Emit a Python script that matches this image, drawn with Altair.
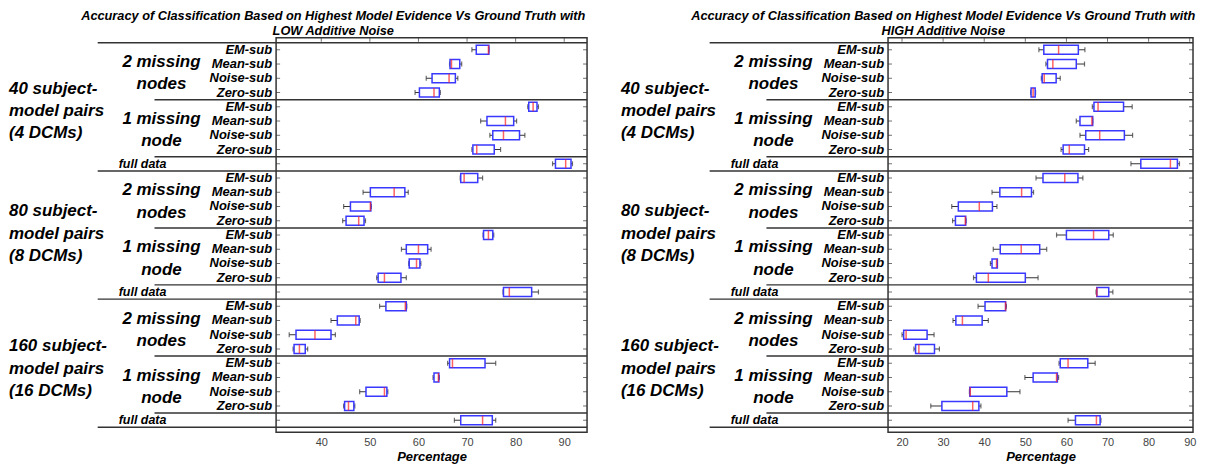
import altair as alt
import pandas as pd

FONT = "Liberation Sans"

row_names = ["EM-sub", "Mean-sub", "Noise-sub", "Zero-sub",
             "EM-sub", "Mean-sub", "Noise-sub", "Zero-sub", "full data"] * 3

group_labels = ["40 subject-\nmodel pairs\n(4 DCMs)",
                "80 subject-\nmodel pairs\n(8 DCMs)",
                "160 subject-\nmodel pairs\n(16 DCMs)"]
group_center_rows = [4.3, 12.9, 22.4]

sub_group_labels = ["2 missing\nnodes", "1 missing\nnode"] * 3
sub_group_center_rows = [1.65, 5.65, 10.65, 14.65, 19.65, 23.65]

sep_minor = [3.5, 7.5, 12.5, 16.5, 21.5, 25.5]
sep_major = [-0.5, 8.5, 17.5, 26.5]

# LOW additive noise (left panel)
low_wmin = [71.0, 66.4, 61.6, 59.3, 82.5, 72.8, 74.7, 71.0, 87.6,
            68.6, 48.6, 44.6, 44.4, 73.3, 56.5, 58.0, 51.4, 77.4,
            52.0, 42.0, 33.4, 34.2, 66.0, 63.0, 47.9, 44.6, 67.4]
low_q1 = [71.9, 66.5, 62.8, 60.2, 82.7, 74.1, 75.3, 71.2, 88.2,
          68.7, 50.1, 46.0, 45.1, 73.4, 57.5, 58.1, 51.7, 77.5,
          53.3, 43.3, 34.8, 34.4, 66.4, 63.2, 49.2, 44.8, 68.7]
low_med = [74.4, 66.8, 66.3, 63.2, 83.6, 77.9, 77.5, 72.0, 90.3,
           69.4, 55.0, 50.1, 47.7, 74.4, 60.0, 59.6, 53.0, 78.7,
           57.3, 47.1, 38.7, 35.5, 67.0, 64.1, 53.0, 45.6, 73.2]
low_q3 = [74.5, 68.5, 67.6, 64.3, 84.4, 79.6, 80.8, 75.6, 91.4,
          72.2, 57.2, 50.2, 48.8, 75.3, 61.9, 60.3, 56.4, 83.3,
          57.5, 47.8, 42.0, 36.7, 73.7, 64.2, 53.5, 46.7, 75.2]
low_wmax = [74.5, 68.9, 68.1, 64.5, 84.7, 80.2, 81.9, 76.9, 91.7,
            73.2, 57.9, 50.3, 49.1, 75.5, 62.6, 60.5, 57.5, 84.7,
            57.6, 48.0, 42.9, 37.2, 75.9, 64.3, 53.7, 46.9, 75.9]

# HIGH additive noise (right panel)
high_wmin = [53.3, 55.0, 53.9, 51.3, 66.3, 62.4, 63.3, 58.7, 75.7,
             52.6, 41.9, 32.1, 32.3, 57.6, 42.2, 41.5, 37.4, 67.2,
             38.5, 32.4, 20.0, 22.9, 58.2, 49.9, 36.4, 27.0, 60.4]
high_q1 = [54.5, 55.4, 54.1, 51.4, 66.7, 63.3, 64.7, 59.2, 78.1,
           54.3, 43.8, 33.7, 33.0, 60.0, 43.9, 41.9, 38.1, 67.4,
           40.2, 33.1, 20.4, 23.3, 58.5, 51.9, 36.5, 29.7, 62.2]
high_med = [58.1, 56.7, 54.6, 51.9, 67.7, 66.2, 68.1, 60.7, 85.3,
            59.6, 49.1, 38.8, 35.4, 66.6, 49.0, 43.0, 41.0, 67.4,
            45.2, 34.7, 21.0, 24.1, 60.4, 57.6, 36.6, 37.2, 67.3]
high_q3 = [62.9, 62.4, 57.5, 52.4, 73.9, 66.4, 74.1, 64.4, 87.0,
           62.8, 51.5, 42.0, 35.5, 70.3, 53.5, 43.2, 50.0, 70.3,
           45.2, 39.5, 26.1, 27.9, 65.2, 57.8, 45.5, 38.7, 68.2]
high_wmax = [64.5, 64.4, 58.5, 52.5, 76.0, 66.4, 76.1, 65.4, 87.5,
             64.0, 52.0, 43.1, 35.6, 71.4, 55.2, 43.2, 53.1, 71.3,
             45.4, 41.0, 27.8, 29.1, 67.0, 58.1, 48.7, 39.2, 68.4]

low_ticks = [40, 50, 60, 70, 80, 90]
high_ticks = [20, 30, 40, 50, 60, 70, 80, 90]
low_domain = [30.7, 94.7]
high_domain = [16.6, 90.8]

title_low = ["Accuracy of Classification Based on Highest Model Evidence Vs Ground Truth with",
             "LOW Additive Noise"]
title_high = ["Accuracy of Classification Based on Highest Model Evidence Vs Ground Truth with",
              "HIGH Additive Noise"]

H = 396
BLUE = "#3838ff"
RED = "#ff2020"
DARK = "#333333"
LH = 22.5


def panel(wmin, q1, med, q3, wmax, domain, ticks, title, W):
    df = pd.DataFrame({"row": list(range(len(row_names))), "name": row_names,
                       "wmin": wmin, "q1": q1, "med": med, "q3": q3, "wmax": wmax})
    xscale = alt.Scale(domain=domain, nice=False, zero=False)
    yscale = alt.Scale(domain=[-0.5, 26.5], reverse=True, nice=False, zero=False)
    xaxis = alt.Axis(values=ticks, ticks=False, domain=False, grid=False,
                     labelFont=FONT, labelFontSize=11, labelColor="#444444",
                     labelPadding=4, titleFont=FONT, titleFontSize=13,
                     titleFontStyle="italic", titleFontWeight="bold",
                     titleColor="black", titlePadding=3)

    def X(f):
        return alt.X(f"{f}:Q", scale=xscale, axis=xaxis, title="Percentage")

    def Y(f):
        return alt.Y(f"{f}:Q", scale=yscale, axis=None)

    base = alt.Chart(df)
    whisk = base.mark_rule(color=DARK, strokeWidth=1).encode(x=X("wmin"), x2="wmax:Q", y=Y("row"))
    cap_lo = base.mark_tick(orient="vertical", size=5, thickness=1.2, color=DARK).encode(x=X("wmin"), y=Y("row"))
    cap_hi = base.mark_tick(orient="vertical", size=5, thickness=1.2, color=DARK).encode(x=X("wmax"), y=Y("row"))
    box = base.mark_bar(size=9, fill="white", stroke=BLUE, strokeWidth=1.5).encode(
        x=X("q1"), x2="q3:Q", y=Y("row"))
    median = base.mark_tick(orient="vertical", size=9, thickness=1.5, color=RED).encode(x=X("med"), y=Y("row"))

    row_tick_l = base.mark_tick(orient="horizontal", size=4, thickness=1, color=DARK).encode(
        x=alt.value(2), y=Y("row"))
    row_tick_r = base.mark_tick(orient="horizontal", size=4, thickness=1, color=DARK).encode(
        x=alt.value(W - 2), y=Y("row"))

    tdf = pd.DataFrame({"t": ticks})
    top_ticks = alt.Chart(tdf).mark_tick(orient="vertical", size=4, thickness=1, color=DARK).encode(
        x=X("t"), y=alt.value(2))

    sub_lbl = base.transform_filter(alt.datum.name != "full data").mark_text(
        align="right", baseline="middle", font=FONT, fontSize=13, fontStyle="italic",
        fontWeight="bold", color="black").encode(x=alt.value(-4), y=Y("row"), text="name:N")
    full_lbl = base.transform_filter(alt.datum.name == "full data").mark_text(
        align="center", baseline="middle", font=FONT, fontSize=12.5, fontStyle="italic",
        fontWeight="bold", color="black").encode(x=alt.value(-134), y=Y("row"), text="name:N")

    gdf = pd.DataFrame({"c": group_center_rows, "label": group_labels})
    grp = alt.Chart(gdf).mark_text(
        align="left", baseline="middle", font=FONT, fontSize=17, fontStyle="italic",
        fontWeight="bold", color="black", lineBreak="\n", lineHeight=LH, dy=-LH).encode(
        x=alt.value(-268), y=Y("c"), text="label:N")

    sdf = pd.DataFrame({"c": sub_group_center_rows, "label": sub_group_labels})
    sgrp = alt.Chart(sdf).mark_text(
        align="center", baseline="middle", font=FONT, fontSize=17, fontStyle="italic",
        fontWeight="bold", color="black", lineBreak="\n", lineHeight=LH, dy=-LH / 2).encode(
        x=alt.value(-115), y=Y("c"), text="label:N")

    mdf = pd.DataFrame({"p": sep_minor})
    minor = alt.Chart(mdf).mark_rule(color=DARK, strokeWidth=1.5).encode(
        x=alt.value(-122), x2=alt.value(W), y=Y("p"))
    jdf = pd.DataFrame({"p": sep_major})
    major = alt.Chart(jdf).mark_rule(color=DARK, strokeWidth=1.5).encode(
        x=alt.value(-179), x2=alt.value(W), y=Y("p"))

    return alt.layer(minor, major, row_tick_l, row_tick_r, top_ticks, whisk, cap_lo, cap_hi,
                     box, median, sub_lbl, full_lbl, grp, sgrp).properties(
        width=W, height=H,
        title=alt.TitleParams(text=title, font=FONT, fontSize=12.8, fontStyle="italic",
                              fontWeight="bold", color="black", anchor="middle",
                              frame="bounds", dx=35, lineHeight=15, offset=0))


left = panel(low_wmin, low_q1, low_med, low_q3, low_wmax, low_domain, low_ticks, title_low, 312)
right = panel(high_wmin, high_q1, high_med, high_q3, high_wmax, high_domain, high_ticks, title_high, 306)

chart = alt.hconcat(left, right, spacing=31).properties(padding=0).configure_view(
    stroke=DARK, strokeWidth=1.5)

chart.save("out.html", embed_options={"renderer": "svg", "actions": False})
